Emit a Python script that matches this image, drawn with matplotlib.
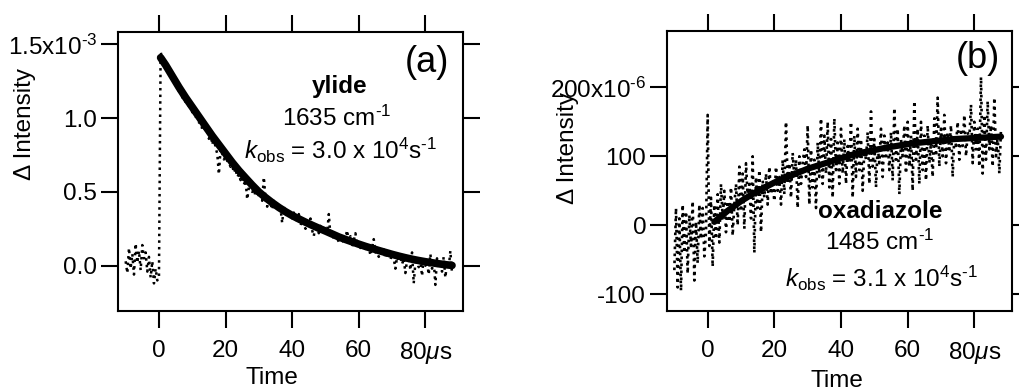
import matplotlib
matplotlib.use("Agg")
import matplotlib.pyplot as plt
import numpy as np

plt.rcParams['font.family'] = ['Liberation Sans', 'DejaVu Sans']
plt.rcParams['mathtext.fontset'] = 'custom'
plt.rcParams['mathtext.rm'] = 'Liberation Sans'
plt.rcParams['mathtext.it'] = 'Liberation Sans:italic'
plt.rcParams['mathtext.bf'] = 'Liberation Sans:bold'

# ---------------- data ----------------
# sampling grid of both traces: -10 .. 88 us, every 0.5 us
t_start, t_step = -10.0, 0.5

# Panel (a): ylide, Delta Intensity in units of 1e-3
y_a = [0.03, -0.05, 0.12, -0.02, 0.08, -0.06, 0.15, 0.02, 0.10, -0.03,
       0.14, 0.05, 0.09, -0.04, 0.06, -0.08, 0.03, -0.12, -0.02, -0.10,
       -0.08, 1.45, 1.40, 1.37, 1.38, 1.33, 1.30, 1.32, 1.25, 1.27,
       1.21, 1.25, 1.18, 1.20, 1.14, 1.17, 1.10, 1.13, 1.08, 1.10,
       1.04, 1.08, 1.00, 1.03, 0.97, 1.00, 0.92, 0.96, 0.90, 0.93,
       0.86, 0.90, 0.82, 0.87, 0.80, 0.76, 0.62, 0.79, 0.76, 0.72,
       0.74, 0.71, 0.70, 0.67, 0.68, 0.63, 0.66, 0.60, 0.62, 0.58,
       0.60, 0.55, 0.58, 0.45, 0.53, 0.55, 0.50, 0.52, 0.47, 0.53,
       0.47, 0.49, 0.44, 0.60, 0.45, 0.40, 0.47, 0.42, 0.38, 0.44,
       0.40, 0.42, 0.37, 0.39, 0.29, 0.40, 0.36, 0.33, 0.37, 0.34,
       0.31, 0.36, 0.32, 0.29, 0.35, 0.27, 0.31, 0.28, 0.25, 0.30,
       0.27, 0.32, 0.24, 0.20, 0.28, 0.25, 0.22, 0.27, 0.24, 0.21,
       0.25, 0.22, 0.35, 0.20, 0.23, 0.18, 0.21, 0.19, 0.16, 0.20,
       0.18, 0.15, 0.19, 0.24, 0.16, 0.20, 0.13, 0.17, 0.22, 0.14,
       0.16, 0.12, 0.15, 0.11, 0.14, 0.10, 0.13, 0.07, 0.12, 0.18,
       0.09, 0.12, 0.06, 0.10, 0.08, 0.11, 0.05, 0.09, 0.07, 0.04,
       0.08, 0.05, -0.02, 0.06, 0.03, 0.07, 0.01, 0.05, -0.05, 0.04,
       0.06, -0.03, 0.09, -0.12, 0.02, 0.05, -0.01, 0.04, -0.07, 0.06,
       0.00, 0.03, -0.06, 0.08, -0.02, 0.04, -0.13, 0.05, -0.01, 0.03,
       -0.04, 0.06, -0.08, 0.02, -0.02, 0.10, -0.05]
fit_t_a = [0.5, 2, 4, 6, 8, 10, 12, 14, 16, 18, 20, 22, 24, 26, 28, 30,
           32, 34, 36, 38, 40, 42, 44, 46, 48, 50, 52, 54, 56, 58, 60, 62,
           64, 66, 68, 70, 72, 74, 76, 78, 80, 82, 84, 86, 88]
fit_y_a = [1.41, 1.36, 1.285, 1.21, 1.14, 1.075, 1.01, 0.945, 0.88, 0.82,
           0.76, 0.70, 0.645, 0.595, 0.546, 0.50, 0.462, 0.427, 0.395,
           0.366, 0.34, 0.317, 0.295, 0.274, 0.254, 0.235, 0.215, 0.195,
           0.178, 0.162, 0.146, 0.131, 0.117, 0.103, 0.09, 0.077, 0.065,
           0.054, 0.044, 0.035, 0.027, 0.02, 0.013, 0.007, 0.002]

# Panel (b): oxadiazole, Delta Intensity in units of 1e-6
y_b = [-65, 25, -90, 10, -95, 30, -40, 20, -70, 15,
       -30, 35, -80, 5, -55, 30, -20, 25, -45, -10,
       160, -30, 40, -60, 30, -20, 45, -25, 60, 10,
       50, -10, 35, 5, 55, -15, 30, 60, 0, 85,
       20, 75, -5, 90, 40, 60, 10, 100, -40, 70,
       25, 80, -10, 65, 40, 75, 30, 85, 45, 60,
       35, 85, 50, 70, 30, 95, 45, 150, 60, 90,
       40, 105, 70, 95, 25, 100, 60, 90, 110, 70,
       145, 30, 110, 55, 95, 25, 120, 70, 155, 60,
       130, 75, 150, 55, 125, 40, 155, 80, 120, 60,
       140, 75, 125, 60, 115, 90, 150, 40, 130, 70,
       140, 80, 125, 50, 110, 95, 135, 60, 165, 85,
       125, 55, 115, 90, 140, 70, 130, 100, 120, 80,
       135, 65, 170, 95, 140, 45, 125, 100, 145, 75,
       150, 85, 130, 50, 180, 95, 140, 60, 150, 80,
       130, 65, 145, 90, 120, 70, 155, 100, 185, 85,
       140, 100, 160, 90, 135, 110, 145, 70, 130, 115,
       150, 95, 140, 115, 160, 100, 135, 125, 175, 90,
       150, 110, 140, 85, 215, 75, 160, 95, 180, 110,
       145, 85, 185, 100, 130, 75, 140]
fit_t_b = [2, 4, 6, 8, 10, 12, 14, 16, 18, 20, 22, 24, 26, 28, 30, 32, 34,
           36, 38, 40, 42, 44, 46, 48, 50, 54, 58, 62, 66, 70, 74, 78, 82,
           86, 88]
fit_y_b = [5, 13, 21, 28, 35, 41, 47, 52, 57, 62, 66, 70, 74, 78, 82, 85,
           88, 91, 94, 97, 100, 103, 105, 107, 109, 113, 116, 119, 121,
           123, 125, 126, 127, 128, 128.5]

xticks = [0, 20, 40, 60, 80]
xticklabels = ['0', '20', '40', '60', r'80$\mu$s']
yticks_a = [0.0, 0.5, 1.0, 1.5]
yticklabels_a = ['0.0', '0.5', '1.0', r'1.5x10$^{\text{-}3}$']
yticks_b = [-100, 0, 100, 200]
yticklabels_b = ['-100', '0', '100', r'200x10$^{\text{-}6}$']

t_a = t_start + t_step * np.arange(len(y_a))
t_b = t_start + t_step * np.arange(len(y_b))

# ---------------- figure ----------------
W, H = 1019, 390
fig = plt.figure(figsize=(W / 100, H / 100), dpi=100)

def px_axes(l, t, r, b):
    return fig.add_axes([l / W, 1 - b / H, (r - l) / W, (b - t) / H])

ax_a = px_axes(118, 32, 463, 311)
ax_b = px_axes(667, 31, 1012, 311)

FS = 17.5

def style(ax, yt, ytl):
    ax.set_xticks(xticks)
    ax.set_xticklabels(xticklabels)
    ax.set_yticks(yt)
    ax.set_yticklabels(ytl)
    ax.tick_params(direction='out', top=True, right=True, length=12,
                   width=1.5, labelsize=FS, color='black')
    ax.tick_params(axis='x', pad=9)
    ax.tick_params(axis='y', pad=3)
    for s in ax.spines.values():
        s.set_linewidth(1.5)

# panel a
ax_a.plot(t_a, y_a, color='black', linestyle=':', linewidth=1.8)
ax_a.plot(fit_t_a, fit_y_a, color='black', linewidth=5.5, solid_capstyle='round')
ax_a.set_xlim(-12.3, 91.3)
ax_a.set_ylim(-0.307, 1.584)
style(ax_a, yticks_a, yticklabels_a)

# panel b
ax_b.plot(t_b, y_b, color='black', linestyle=':', linewidth=1.9)
ax_b.plot(fit_t_b, fit_y_b, color='black', linewidth=4.5, solid_capstyle='round')
ax_b.set_xlim(-12.2, 91.3)
ax_b.set_ylim(-124.2, 281.6)
style(ax_b, yticks_b, yticklabels_b)

def ftext(x, y, s, **kw):
    fig.text(x / W, 1 - y / H, s, ha='center', va='center', **kw)

# axis labels
ftext(272, 378, 'Time', fontsize=FS)
ftext(837, 381, 'Time', fontsize=FS)
ftext(25, 124, u'\u0394 Intensity', fontsize=FS, rotation=90)
ftext(568, 148, u'\u0394 Intensity', fontsize=FS, rotation=90)

# annotations panel a
ftext(427, 62, '(a)', fontsize=26)
ftext(340, 87, 'ylide', fontsize=FS, fontweight='bold')
ftext(337, 118, r'1635 cm$^{\text{-}1}$', fontsize=FS)
ftext(341, 150, r'$k_{\mathrm{obs}}$ = 3.0 x 10$^{4}$s$^{\text{-}1}$', fontsize=FS)

# annotations panel b
ftext(978, 58, '(b)', fontsize=26)
ftext(880, 212, 'oxadiazole', fontsize=FS, fontweight='bold')
ftext(880, 242, r'1485 cm$^{\text{-}1}$', fontsize=FS)
ftext(882, 278, r'$k_{\mathrm{obs}}$ = 3.1 x 10$^{4}$s$^{\text{-}1}$', fontsize=FS)

fig.savefig('out.png', dpi=100)
